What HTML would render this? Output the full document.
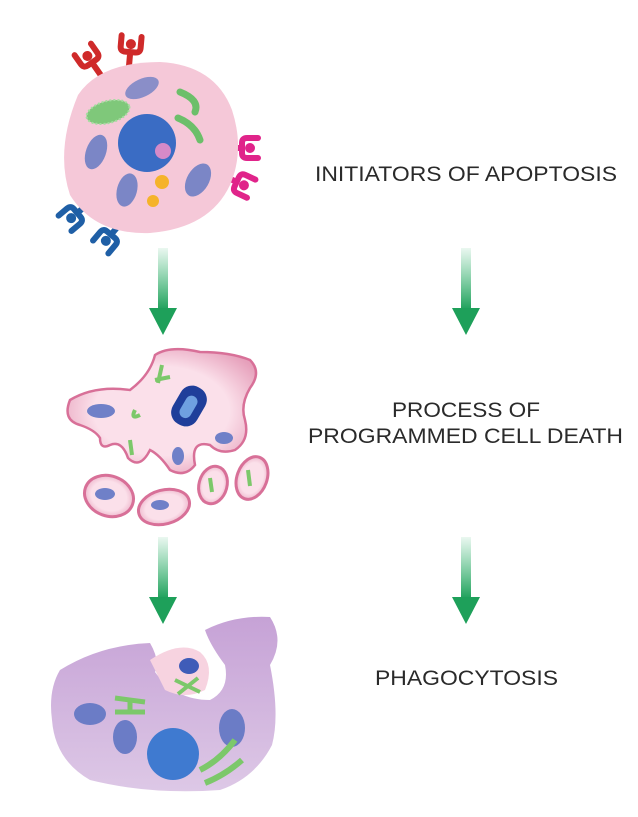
<!DOCTYPE html>
<html><head><meta charset="utf-8"><style>
html,body{margin:0;padding:0;background:#fff;width:638px;height:817px;overflow:hidden}
text{font-family:"Liberation Sans",sans-serif;fill:#2a2a2a;font-size:21px}
</style></head><body>
<svg width="638" height="817" viewBox="0 0 638 817" xmlns="http://www.w3.org/2000/svg">
<defs>
<linearGradient id="ag" x1="0" y1="0" x2="0" y2="1">
<stop offset="0" stop-color="#2db36a" stop-opacity="0.1"/>
<stop offset="1" stop-color="#1ea05a"/>
</linearGradient>
<radialGradient id="pk" cx="0.5" cy="0.5" r="0.6">
<stop offset="0.6" stop-color="#fbe0ea"/><stop offset="1" stop-color="#e6a0bb"/>
</radialGradient>
<linearGradient id="pu" x1="0" y1="0" x2="0" y2="1">
<stop offset="0" stop-color="#c6a2d6"/><stop offset="1" stop-color="#ddc8e6"/>
</linearGradient>
<g id="arrow">
<rect x="-5" y="0" width="10" height="62" fill="url(#ag)"/>
<polygon points="-14,60 14,60 0,87" fill="#1ea05a"/>
</g>
<g id="rc">
<path d="M0,2 L0,-14 M-10,-30 L-10,-19 Q-10,-14 -5,-14 L5,-14 Q10,-14 10,-19 L10,-30" fill="none" stroke-width="6" stroke-linecap="round" stroke-linejoin="round"/>
<circle cx="0" cy="-22" r="4.5"/>
</g>
</defs>

<use href="#arrow" x="163" y="248"/>
<use href="#arrow" x="466" y="248"/>
<use href="#arrow" x="163" y="537"/>
<use href="#arrow" x="466" y="537"/>

<text x="315" y="181" textLength="302" lengthAdjust="spacingAndGlyphs">INITIATORS OF APOPTOSIS</text>
<text x="392" y="417" textLength="148" lengthAdjust="spacingAndGlyphs">PROCESS OF</text>
<text x="308" y="443" textLength="315" lengthAdjust="spacingAndGlyphs">PROGRAMMED CELL DEATH</text>
<text x="375" y="685" textLength="183" lengthAdjust="spacingAndGlyphs">PHAGOCYTOSIS</text>

<g stroke="#cf2a2a" fill="#cf2a2a">
<use href="#rc" transform="translate(100,74) rotate(-35)"/>
<use href="#rc" transform="translate(129,66) rotate(5)"/>
</g>
<g stroke="#e0248a" fill="#e0248a">
<use href="#rc" transform="translate(228,148) rotate(90)"/>
<use href="#rc" transform="translate(224,176) rotate(115)"/>
</g>
<g stroke="#1f5fa6" fill="#1f5fa6">
<use href="#rc" transform="translate(88,204) rotate(-130)"/>
<use href="#rc" transform="translate(120,224) rotate(-140)"/>
</g>

<path d="M78,95 Q100,62 160,62 Q215,65 232,110 Q245,150 230,185 Q210,228 150,233 Q95,235 70,195 Q55,150 78,95 Z" fill="#f5c8d8"/>
<ellipse cx="108" cy="112" rx="22" ry="11" transform="rotate(-15 108 112)" fill="#7fc87a" stroke="#a5dca0" stroke-dasharray="2 2" stroke-width="2"/>
<ellipse cx="142" cy="88" rx="18" ry="9" transform="rotate(-25 142 88)" fill="#8a8ec8"/>
<path d="M180,92 Q200,100 195,112 M178,118 Q195,125 200,140" stroke="#6cbf6a" stroke-width="7" fill="none" stroke-linecap="round"/>
<circle cx="147" cy="143" r="29" fill="#3a6cc4"/>
<circle cx="163" cy="151" r="8" fill="#d58ac8"/>
<ellipse cx="96" cy="152" rx="10" ry="18" transform="rotate(20 96 152)" fill="#7b86c6"/>
<ellipse cx="127" cy="190" rx="10" ry="17" transform="rotate(15 127 190)" fill="#7b86c6"/>
<ellipse cx="198" cy="180" rx="11" ry="18" transform="rotate(30 198 180)" fill="#7b86c6"/>
<circle cx="162" cy="182" r="7" fill="#f5b32a"/>
<circle cx="153" cy="201" r="6" fill="#f5b32a"/>

<path d="M70,400 Q95,385 130,390 Q150,375 155,355 Q170,345 200,352 Q230,352 250,360 Q262,372 250,388 Q240,405 245,420 Q250,440 235,450 Q220,455 210,445 Q190,440 195,465 Q185,478 170,470 Q160,455 150,450 Q140,470 128,458 Q122,440 110,445 Q100,450 100,438 Q95,430 80,425 Q62,420 70,400 Z" fill="url(#pk)" stroke="#d87098" stroke-width="2.5"/>
<ellipse cx="101" cy="411" rx="14" ry="7" fill="#6f80c8"/>
<rect x="175" y="385" width="28" height="42" rx="13" transform="rotate(30 189 406)" fill="#1f3e9a"/>
<rect x="183" y="395" width="12" height="24" rx="6" transform="rotate(30 189 406)" fill="#6fa0e0"/>
<ellipse cx="224" cy="438" rx="9" ry="6" fill="#6f80c8"/>
<ellipse cx="178" cy="456" rx="6" ry="9" fill="#6f80c8"/>
<path d="M158,383 L162,365 M155,380 L170,377 M140,415 Q130,420 135,410 M130,440 L132,455" stroke="#7cc86a" stroke-width="4" fill="none"/>
<ellipse cx="109" cy="496" rx="25" ry="20" transform="rotate(20 109 496)" fill="url(#pk)" stroke="#d87098" stroke-width="3"/>
<ellipse cx="105" cy="494" rx="10" ry="6" fill="#6f80c8"/>
<ellipse cx="164" cy="507" rx="26" ry="17" transform="rotate(-15 164 507)" fill="url(#pk)" stroke="#d87098" stroke-width="3"/>
<ellipse cx="160" cy="505" rx="9" ry="5" fill="#6f80c8"/>
<ellipse cx="213" cy="485" rx="14" ry="19" transform="rotate(15 213 485)" fill="url(#pk)" stroke="#d87098" stroke-width="3"/>
<ellipse cx="252" cy="478" rx="15" ry="22" transform="rotate(20 252 478)" fill="url(#pk)" stroke="#d87098" stroke-width="3"/>
<path d="M210,478 L212,492 M248,470 L250,486" stroke="#7cc86a" stroke-width="4"/>

<path d="M60,670 Q100,645 150,643 Q160,660 155,672 Q175,700 210,700 Q230,690 225,665 Q210,645 205,630 Q235,615 270,617 Q285,640 270,665 Q280,715 272,745 Q255,778 220,790 Q150,795 90,780 Q55,760 52,720 Q48,690 60,670 Z" fill="url(#pu)"/>
<path d="M150,660 Q180,640 200,652 Q215,665 205,690 Q185,700 165,690 Z" fill="#f7d3e0"/>
<ellipse cx="189" cy="666" rx="10" ry="8" fill="#3f5cb8"/>
<path d="M175,680 L200,692 M178,694 L198,678" stroke="#7cc86a" stroke-width="4"/>
<ellipse cx="90" cy="714" rx="16" ry="11" fill="#6b7cc6"/>
<ellipse cx="125" cy="737" rx="12" ry="17" fill="#6b7cc6"/>
<ellipse cx="232" cy="728" rx="13" ry="19" fill="#6b7cc6"/>
<circle cx="173" cy="754" r="26" fill="#3f7ad0"/>
<path d="M115,698 L145,702 M115,712 L145,712 M130,700 L130,712" stroke="#7cc86a" stroke-width="5"/>
<path d="M200,770 Q220,760 235,740 M205,783 Q225,775 242,760" stroke="#7cc86a" stroke-width="6" fill="none"/>
</svg>
</body></html>
